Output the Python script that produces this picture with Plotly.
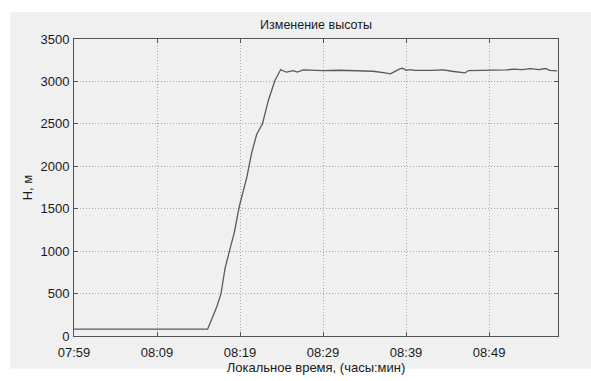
import pandas as pd
import plotly.graph_objects as go

# minutes after 07:59
minutes = [0, 4, 8, 12, 16.1, 16.6, 17.2, 17.7, 18.2, 18.9, 19.3, 19.9, 20.4, 20.8,
           21.4, 22.0, 22.7, 23.4, 24.2, 24.6, 24.9, 25.3, 25.6, 26.4, 26.9, 27.6, 28.5, 30, 32,
           34, 36, 37.5, 38.1, 38.8, 39.3, 39.6, 40.0, 40.5, 41, 43, 44.5, 45.5, 47.1, 47.5, 50,
           52, 53, 54, 55, 56, 56.8, 57.3, 58.2]
heights = [82, 82, 82, 82, 82, 200, 344, 497, 799, 1068, 1216, 1523, 1700, 1864,
           2159, 2375, 2500, 2773, 3011, 3090, 3140, 3120, 3110, 3128, 3110, 3136, 3130, 3128, 3132,
           3128, 3120, 3100, 3090, 3125, 3150, 3155, 3130, 3140, 3130, 3130, 3135, 3120, 3100, 3128, 3130,
           3135, 3145, 3138, 3150, 3140, 3152, 3130, 3125]
tick_labels = ["07:59", "08:09", "08:19", "08:29", "08:39", "08:49"]
y_ticks = [0, 500, 1000, 1500, 2000, 2500, 3000, 3500]

base = pd.Timestamp("2000-01-01 07:59")
times = [base + pd.Timedelta(minutes=m) for m in minutes]
tick_vals = [pd.Timestamp("2000-01-01 " + t) for t in tick_labels]

fig = go.Figure()
fig.add_trace(go.Scatter(x=times, y=heights, mode="lines",
                         line=dict(color="#5a5a5a", width=1.3), showlegend=False))

L, T, W, H = 74, 39, 484, 308
fig.add_shape(type="rect", xref="paper", yref="paper",
              x0=(10 - L) / W, x1=(591 - L) / W, y0=-(381 - (T + H)) / H, y1=(T + H - 11) / H,
              fillcolor="#f0f0f0", line=dict(width=0), layer="below")

axis_common = dict(showline=True, linecolor="#555555", linewidth=1, mirror="ticks",
                   ticks="inside", ticklen=4, tickcolor="#555555",
                   showgrid=True, gridcolor="#a8a8a8", griddash="1px,2px", gridwidth=1,
                   zeroline=False, tickfont=dict(size=13, color="#1a1a1a"))

fig.update_xaxes(range=[base, base + pd.Timedelta(minutes=58.3)], tickvals=tick_vals,
                 ticktext=tick_labels, ticklabelstandoff=4,
                 title=dict(text="Локальное время, (часы:мин)",
                            font=dict(size=13, color="#1a1a1a"), standoff=0),
                 **axis_common)
fig.update_yaxes(range=[0, 3500], tickvals=y_ticks, ticklabelstandoff=1,
                 title=dict(text="H, м", font=dict(size=13, color="#1a1a1a"), standoff=4),
                 **axis_common)

fig.update_layout(
    width=591, height=381,
    margin=dict(l=L, r=591 - L - W, t=T, b=381 - T - H),
    paper_bgcolor="white", plot_bgcolor="#f0f0f0",
    font=dict(family="Liberation Sans, Arial, sans-serif", color="#1a1a1a"),
    title=dict(text="Изменение высоты", x=(L + W / 2) / 591, xanchor="center",
               y=1 - 25 / 381, yanchor="middle", font=dict(size=12.5, color="#1a1a1a")),
)

fig.write_html("out.html")
